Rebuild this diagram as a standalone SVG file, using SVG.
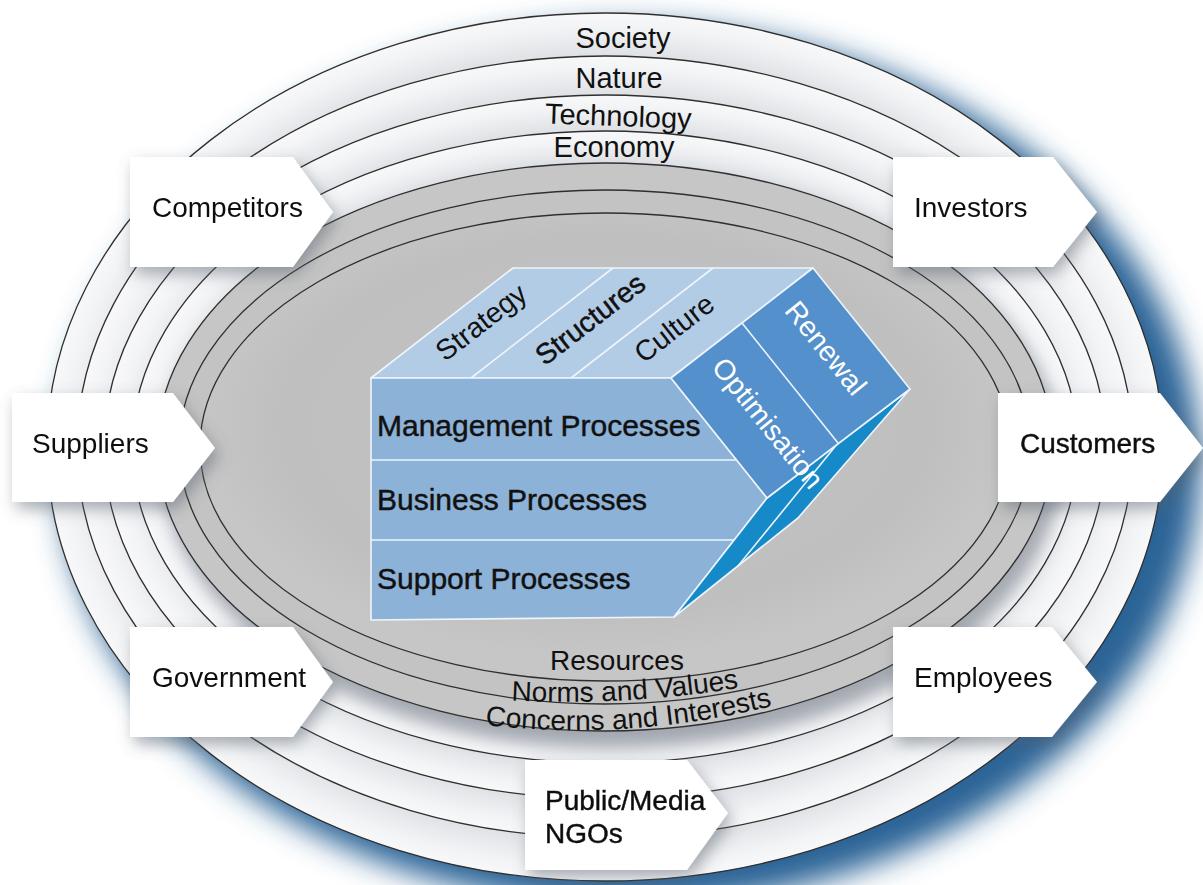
<svg xmlns="http://www.w3.org/2000/svg" width="1203" height="885" viewBox="0 0 1203 885">
  <style>
    .lbl { font-family: "Liberation Sans", Arial, sans-serif; fill: #111; }
    .heavy { stroke: #111; stroke-width: 0.45; }
    .ring-line { fill: none; stroke: #2f2f2f; stroke-width: 1.3; }
    .box { fill: #ffffff; }
    .edge { stroke: #eef4fb; stroke-width: 1.6; stroke-linejoin: round; }
    .wt { fill: #ffffff; }
  </style>
  <defs>
    <radialGradient id="band" cx="0.5" cy="0.5" r="0.5">
      <stop offset="0.86" stop-color="#d2d6db"/>
      <stop offset="0.97" stop-color="#f3f4f6"/>
      <stop offset="1" stop-color="#f8f8f9"/>
    </radialGradient>
    <radialGradient id="plate" cx="0.5" cy="0.45" r="0.5">
      <stop offset="0" stop-color="#c4c4c4"/>
      <stop offset="0.8" stop-color="#bfbfbf"/>
      <stop offset="1" stop-color="#c6c6c6"/>
    </radialGradient>
    <filter id="blueShade" x="-20%" y="-20%" width="140%" height="140%">
      <feGaussianBlur stdDeviation="15"/>
    </filter>
    <filter id="soft" x="-20%" y="-20%" width="140%" height="140%">
      <feGaussianBlur stdDeviation="9"/>
    </filter>
    <filter id="boxShadow" x="-30%" y="-30%" width="160%" height="160%">
      <feGaussianBlur in="SourceAlpha" stdDeviation="8"/>
      <feOffset dx="4" dy="7" result="b"/>
      <feFlood flood-color="#56606c" flood-opacity="0.5"/>
      <feComposite in2="b" operator="in"/>
      <feMerge>
        <feMergeNode/>
        <feMergeNode in="SourceGraphic"/>
      </feMerge>
    </filter>
    <path id="arcNorms" d="M 488,699 Q 625,709 762,684"/>
    <path id="arcConcerns" d="M 462,722 Q 628,746 795,700"/>
  </defs>

  <rect width="1203" height="885" fill="#ffffff"/>

  <!-- environment rings -->
  <g id="rings">
    <ellipse cx="630" cy="466" rx="570" ry="440" fill="#2a6396" filter="url(#blueShade)"/>
    <ellipse cx="605" cy="447" rx="558" ry="434" fill="url(#band)"/>
    <ellipse cx="605" cy="447" rx="528" ry="391" fill="url(#band)"/>
    <ellipse cx="605" cy="447" rx="501" ry="352" fill="url(#band)"/>
    <ellipse cx="605" cy="447" rx="473" ry="316" fill="url(#band)"/>
    <ellipse cx="612" cy="462" rx="450" ry="286" fill="#8d939c" opacity="0.75" filter="url(#soft)"/>
    <ellipse cx="605" cy="447" rx="448" ry="284" fill="#c6c6c6"/>
    <ellipse cx="605" cy="447" rx="426" ry="257" fill="#c3c3c3"/>
    <ellipse cx="605" cy="447" rx="405" ry="234" fill="url(#plate)"/>
    <ellipse class="ring-line" cx="605" cy="447" rx="558" ry="434"/>
    <ellipse class="ring-line" cx="605" cy="447" rx="528" ry="391"/>
    <ellipse class="ring-line" cx="605" cy="447" rx="501" ry="352"/>
    <ellipse class="ring-line" cx="605" cy="447" rx="473" ry="316"/>
    <ellipse class="ring-line" cx="605" cy="447" rx="448" ry="284"/>
    <ellipse class="ring-line" cx="605" cy="447" rx="426" ry="257"/>
    <ellipse class="ring-line" cx="605" cy="447" rx="405" ry="234"/>
  </g>

  <!-- ring labels -->
  <g id="ring-labels" class="lbl" font-size="29" text-anchor="middle">
    <text x="623" y="48">Society</text>
    <text x="619" y="88">Nature</text>
    <text x="618" y="126" transform="rotate(2 618 126)">Technology</text>
    <text x="614" y="157">Economy</text>
    <text x="617" y="670" font-size="28">Resources</text>
    <text font-size="28"><textPath href="#arcNorms" startOffset="50%">Norms and Values</textPath></text>
    <text font-size="28"><textPath href="#arcConcerns" startOffset="50%">Concerns and Interests</textPath></text>
  </g>

  <!-- organisation block -->
  <g id="cube">
    <polygon class="edge" points="371,378 513,268 813,268 671,378" fill="#b3cce5"/>
    <line class="edge" x1="471" y1="378" x2="613" y2="268"/>
    <line class="edge" x1="571" y1="378" x2="713" y2="268"/>
    <polygon class="edge" points="371,378 671,378 767,498 674,617 371,620" fill="#8db2d7"/>
    <line class="edge" x1="371" y1="460" x2="736" y2="460"/>
    <line class="edge" x1="371" y1="540" x2="734" y2="540"/>
    <polygon class="edge" points="767,498 838,443 910,389 798,518 674,617" fill="#168ac8"/>
    <line class="edge" x1="838" y1="443" x2="738" y2="566"/>
    <polygon class="edge" points="671,378 813,268 910,389 767,498" fill="#5390cc"/>
    <line class="edge" x1="742" y1="323" x2="838" y2="443"/>
    <g class="lbl" font-size="28.5" text-anchor="middle">
      <text x="481" y="322" dy="0.35em" transform="rotate(-37.7 481 322)">Strategy</text>
      <text class="heavy" x="590" y="319" dy="0.35em" stroke-width="0.8" transform="rotate(-37.7 590 319)">Structures</text>
      <text x="674" y="328" dy="0.35em" transform="rotate(-37.7 674 328)">Culture</text>
      <text class="wt" x="826" y="348" dy="0.35em" transform="rotate(51.2 826 348)">Renewal</text>
      <text class="wt" x="768" y="423" dy="0.35em" transform="rotate(51.2 768 423)">Optimisation</text>
    </g>
    <g class="lbl heavy" font-size="30">
      <text x="377" y="436">Management Processes</text>
      <text x="377" y="510">Business Processes</text>
      <text x="377" y="589">Support Processes</text>
    </g>
  </g>

  <!-- stakeholder arrows -->
  <g id="competitors" filter="url(#boxShadow)">
    <polygon class="box" points="130,157 293,157 333,212 293,267 130,267"/>
    <text class="lbl" x="152" y="217" font-size="28">Competitors</text>
  </g>
  <g id="suppliers" filter="url(#boxShadow)">
    <polygon class="box" points="12,393 173,393 215,448 173,502 12,502"/>
    <text class="lbl" x="32" y="453" font-size="28">Suppliers</text>
  </g>
  <g id="government" filter="url(#boxShadow)">
    <polygon class="box" points="130,627 293,627 333,682 293,737 130,737"/>
    <text class="lbl" x="152" y="687" font-size="28">Government</text>
  </g>
  <g id="investors" filter="url(#boxShadow)">
    <polygon class="box" points="893,157 1053,157 1097,212 1053,267 893,267"/>
    <text class="lbl" x="914" y="217" font-size="28">Investors</text>
  </g>
  <g id="customers" filter="url(#boxShadow)">
    <polygon class="box" points="998,393 1160,393 1203,448 1160,502 998,502"/>
    <text class="lbl heavy" x="1020" y="453" font-size="28">Customers</text>
  </g>
  <g id="employees" filter="url(#boxShadow)">
    <polygon class="box" points="893,627 1052,627 1097,682 1052,737 893,737"/>
    <text class="lbl" x="914" y="687" font-size="28">Employees</text>
  </g>
  <g id="public" filter="url(#boxShadow)">
    <polygon class="box" points="525,760 687,760 728,813 687,870 525,870"/>
    <text class="lbl heavy" x="545" y="810" font-size="28">Public/Media</text>
    <text class="lbl heavy" x="545" y="843" font-size="28">NGOs</text>
  </g>
</svg>
